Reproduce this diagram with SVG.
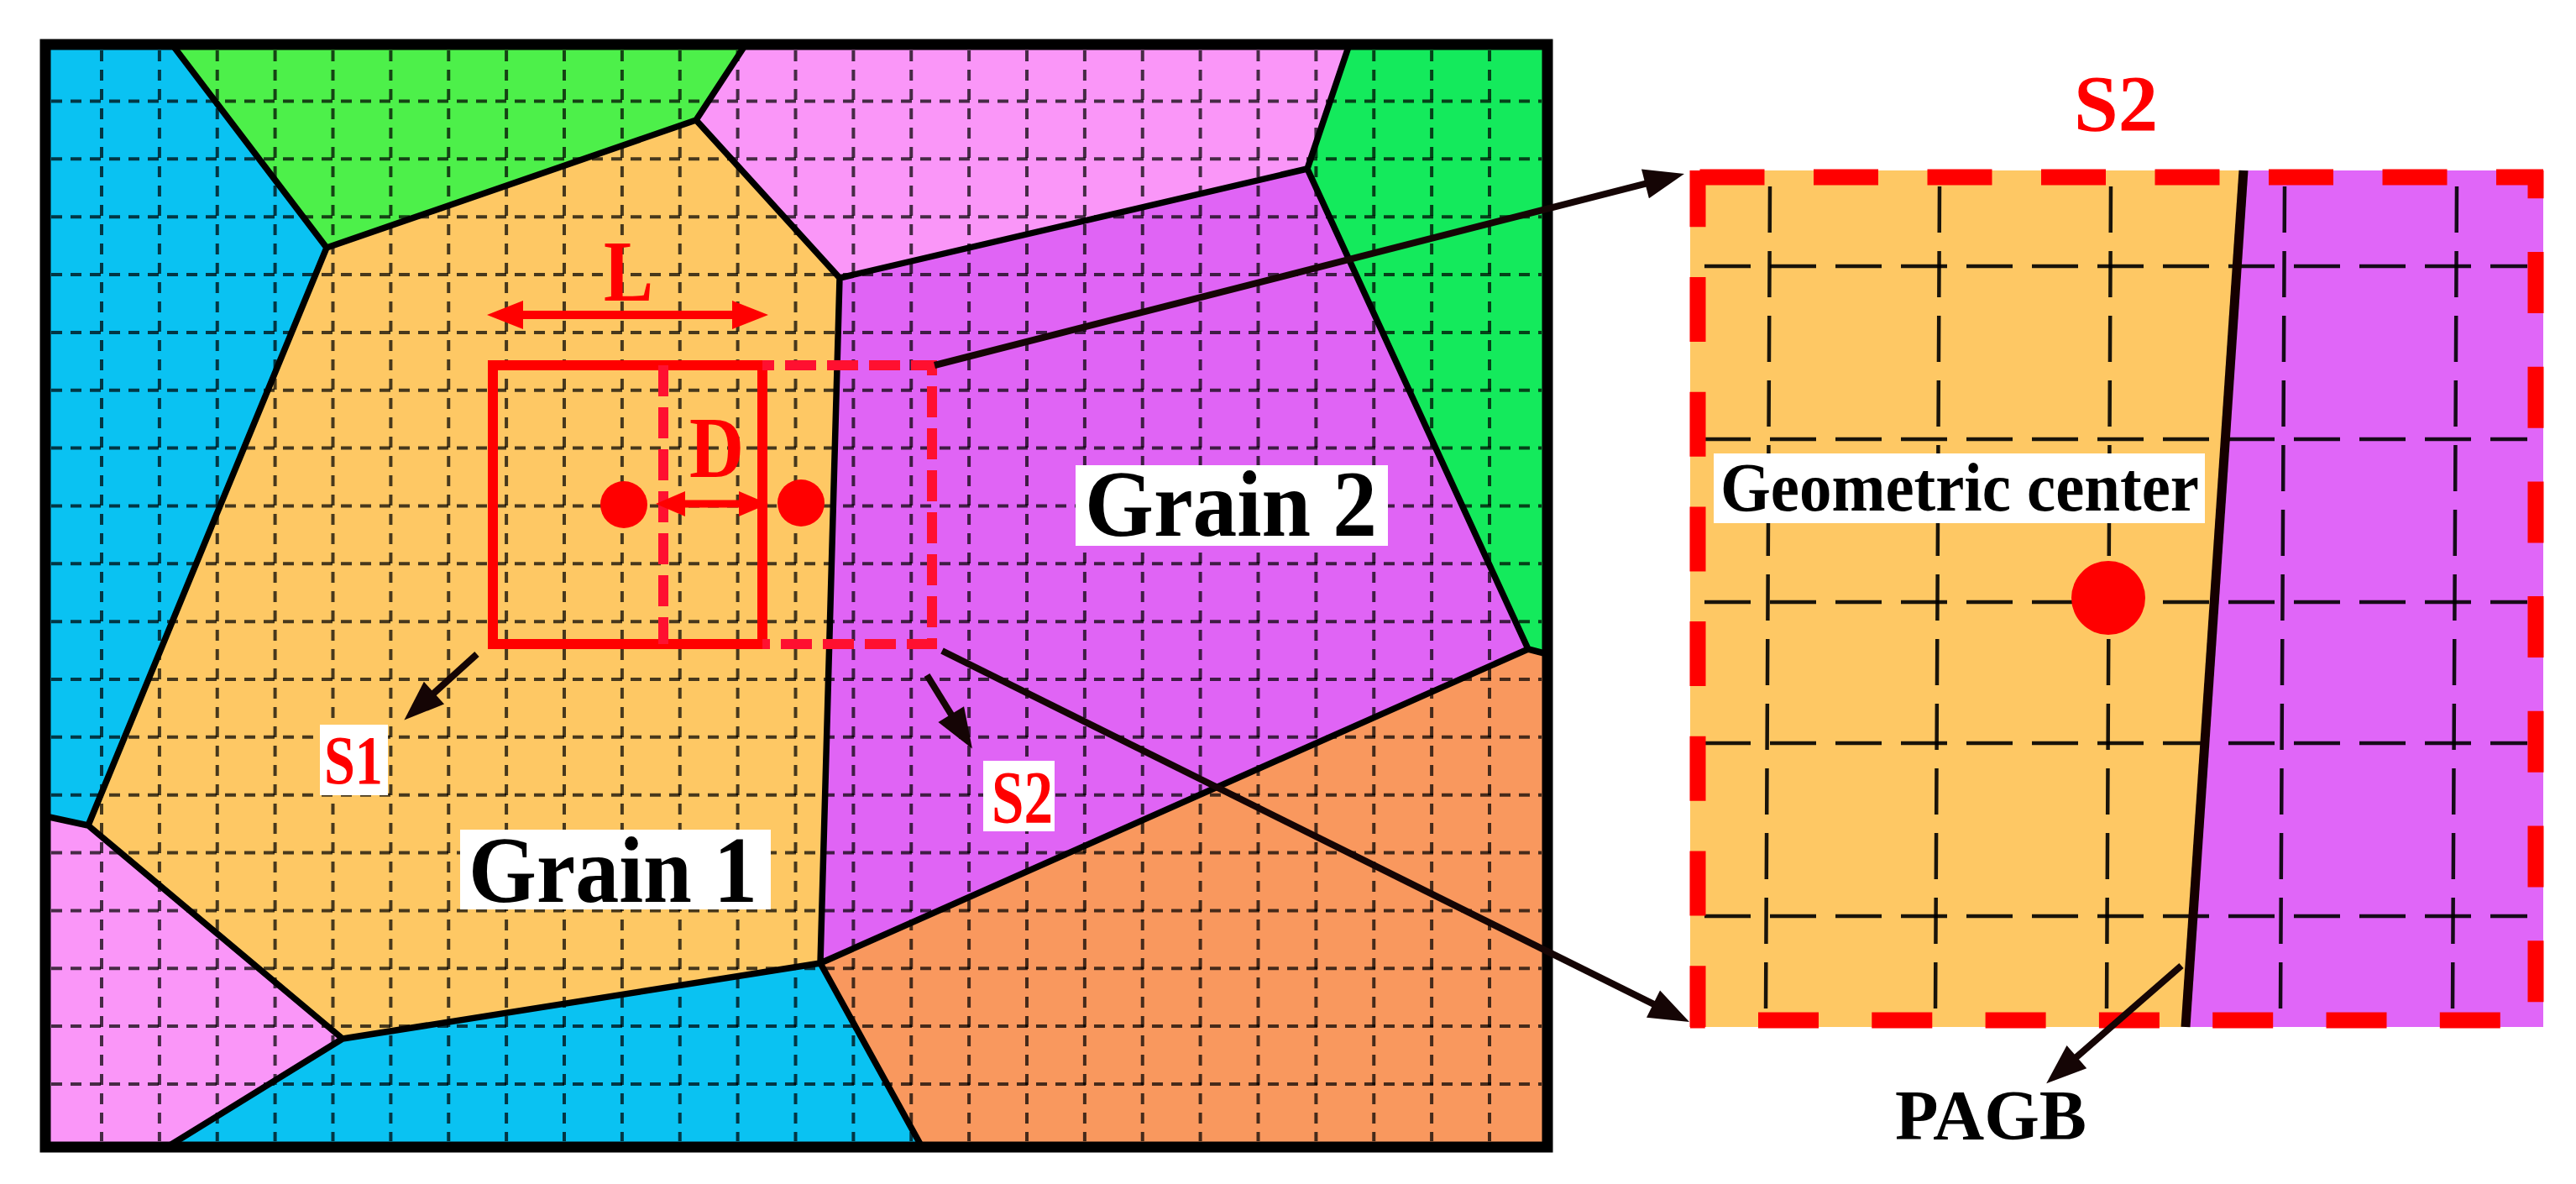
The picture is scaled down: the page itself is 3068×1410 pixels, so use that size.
<svg xmlns="http://www.w3.org/2000/svg" width="3068" height="1410" viewBox="0 0 3068 1410">
<defs>
<style>
.bd{fill:none;stroke:#000;stroke-width:7.5;stroke-linejoin:round;stroke-linecap:round}
.grid{fill:none;stroke:#000;stroke-opacity:0.72;stroke-width:4;stroke-dasharray:13 10}
.pgrid{fill:none;stroke:#000;stroke-opacity:0.9;stroke-width:4.5}
.t{font-family:"Liberation Serif","Times New Roman",serif;font-weight:bold}
.lbl{fill:#fff}
.blk{fill:none;stroke:#150505;stroke-width:8}
.rs{fill:none;stroke:#ff0000;stroke-width:12}
.rd{fill:none;stroke:#ff1030;stroke-width:12;stroke-dasharray:37 13}
.pb{fill:none;stroke:#ff0000;stroke-width:19}
</style>
<marker id="ah" markerUnits="userSpaceOnUse" markerWidth="50" markerHeight="38" refX="31" refY="18" orient="auto" overflow="visible">
<path d="M0,0 L48,18 L0,36 z" fill="#150505"/>
</marker>
<marker id="rh" markerUnits="userSpaceOnUse" markerWidth="44" markerHeight="36" refX="28" refY="17" orient="auto-start-reverse" overflow="visible">
<path d="M0,0 L43,17 L0,34 z" fill="#ff0000"/>
</marker>
<marker id="rhs" markerUnits="userSpaceOnUse" markerWidth="36" markerHeight="32" refX="22" refY="15" orient="auto-start-reverse" overflow="visible">
<path d="M0,0 L35,15 L0,30 z" fill="#ff0000"/>
</marker>
</defs>
<rect width="3068" height="1410" fill="#fff"/>

<g id="microstructure">
<polygon id="blue-left" fill="#0ac2f2" points="54,53 205,53 389,295 105,983 54,972"/>
<polygon id="green-top" fill="#4df04a" points="205,53 888,53 829,143 389,295"/>
<polygon id="pink-top" fill="#fa96f8" points="888,53 1607,53 1557,201 1000,331 829,143"/>
<polygon id="green-right" fill="#14ea5c" points="1607,53 1843,53 1843,779 1820,773 1557,201"/>
<polygon id="grain1-region" fill="#fec864" points="389,295 829,143 1000,331 977,1147 408,1237 105,983"/>
<polygon id="grain2-region" fill="#e064f5" points="1000,331 1557,201 1820,773 977,1147"/>
<polygon id="pink-bottom" fill="#fa96f8" points="54,972 105,983 408,1237 199,1366 54,1366"/>
<polygon id="blue-bottom" fill="#0ac2f2" points="408,1237 977,1147 1098,1366 199,1366"/>
<polygon id="orange-right" fill="#f9985e" points="977,1147 1820,773 1843,779 1843,1366 1098,1366"/>

<path class="grid" d="M121,60V1359M189.9,60V1359M258.75,60V1359M327.6,60V1359M396.5,60V1359M465.4,60V1359M534.25,60V1359M603.1,60V1359M672,60V1359M740.9,60V1359M809.75,60V1359M878.6,60V1359M947.5,60V1359M1016.4,60V1359M1085.25,60V1359M1154.1,60V1359M1223,60V1359M1291.9,60V1359M1360.75,60V1359M1429.6,60V1359M1498.5,60V1359M1567.4,60V1359M1636.25,60V1359M1705.1,60V1359M1774,60V1359"/>
<path class="grid" d="M61,120.5H1836M61,189.35H1836M61,258.2H1836M61,327.05H1836M61,395.9H1836M61,464.75H1836M61,533.6H1836M61,602.45H1836M61,671.3H1836M61,740.15H1836M61,809H1836M61,877.85H1836M61,946.7H1836M61,1015.55H1836M61,1084.4H1836M61,1153.25H1836M61,1222.1H1836M61,1290.95H1836"/>

<path class="bd" d="M205,53L389,295L829,143L888,53M829,143L1000,331L1557,201L1607,53M1557,201L1820,773L1843,779M1000,331L977,1147L1820,773M389,295L105,983L54,972M105,983L408,1237L977,1147L1098,1366M408,1237L199,1366"/>
<rect x="54" y="53" width="1789" height="1313" fill="none" stroke="#000" stroke-width="13"/>
</g>

<g id="s1-window">
<rect class="rs" x="587" y="435" width="321" height="332"/>
<circle cx="743" cy="601" r="28" fill="#ff0000"/>
</g>
<g id="s2-window">
<path class="rd" stroke-dashoffset="23" d="M908,435H1110V767H908"/>
<path class="rd" d="M790,435V767"/>
<circle cx="954" cy="599" r="28" fill="#ff0000"/>
</g>

<g id="label-L"><text class="t" x="719" y="358" font-size="103" fill="#ff0000" textLength="59" lengthAdjust="spacingAndGlyphs">L</text></g>
<g id="label-D"><text class="t" x="821" y="568" font-size="103" fill="#ff0000" textLength="65" lengthAdjust="spacingAndGlyphs">D</text></g>
<g id="label-grain2"><rect class="lbl" x="1281" y="554" width="372" height="96"/><text class="t" x="1292" y="638" font-size="112" fill="#000" textLength="348" lengthAdjust="spacingAndGlyphs">Grain 2</text></g>
<g id="label-grain1"><rect class="lbl" x="548" y="988" width="370" height="95"/><text class="t" x="558" y="1074" font-size="112" fill="#000" textLength="344" lengthAdjust="spacingAndGlyphs">Grain 1</text></g>
<g id="label-s1"><rect class="lbl" x="381" y="863" width="81" height="84"/><text class="t" x="386" y="933" font-size="82" fill="#f00" textLength="70" lengthAdjust="spacingAndGlyphs">S1</text></g>
<g id="label-s2"><rect class="lbl" x="1171" y="906" width="85" height="84"/><text class="t" x="1181" y="979" font-size="88" fill="#f00" textLength="73" lengthAdjust="spacingAndGlyphs">S2</text></g>

<g id="zoom-panel">
<polygon fill="#fec864" points="2013,203 2672,203 2603,1223 2013,1223"/>
<polygon fill="#e066f8" points="2672,203 3029,203 3029,1223 2603,1223"/>
<path class="pgrid" stroke-dasharray="55 22" d="M2108,222L2103,1205M2310,222L2305,1205M2514,222L2509,1205M2721,222L2716,1205M2926,222L2921,1205"/>
<path class="pgrid" stroke-dasharray="55 23" d="M2030,317H3010M2030,523H3010M2030,717H3010M2030,885H3010M2030,1091H3010"/>
<path d="M2672,203L2603,1223" fill="none" stroke="#150000" stroke-width="11"/>
<path class="pb" stroke-dasharray="77 58.5" stroke-dashoffset="124" d="M2013,211H3029"/>
<path class="pb" stroke-dasharray="73 63.7" stroke-dashoffset="39.7" d="M3020,203V1223"/>
<path class="pb" stroke-dasharray="72 63.3" stroke-dashoffset="54.3" d="M2013,1215H3029"/>
<path class="pb" stroke-dasharray="77 59.7" stroke-dashoffset="9.7" d="M2022,203V1223"/>
<rect class="lbl" x="2041" y="540" width="585" height="83"/>
<text class="t" x="2049" y="608" font-size="82" fill="#000" textLength="570" lengthAdjust="spacingAndGlyphs">Geometric center</text>
<circle cx="2511" cy="712" r="44" fill="#ff0000"/>
</g>
<g id="label-s2-title"><text class="t" x="2470" y="156" font-size="96" fill="#ff0000" textLength="100" lengthAdjust="spacingAndGlyphs">S2</text></g>
<g id="label-pagb"><text class="t" x="2257" y="1357" font-size="84" fill="#000" textLength="228" lengthAdjust="spacingAndGlyphs">PAGB</text></g>

<g id="connectors">
<path d="M595,375H900" fill="none" stroke="#ff0000" stroke-width="10" marker-start="url(#rh)" marker-end="url(#rh)"/>
<path d="M794,600H902" fill="none" stroke="#ff0000" stroke-width="9" marker-start="url(#rhs)" marker-end="url(#rhs)"/>
<path class="blk" d="M1113,435L1989.5,211.2" marker-end="url(#ah)"/>
<path class="blk" d="M1122,775L1996.8,1209.4" marker-end="url(#ah)"/>
<path class="blk" d="M568,779L494,846" marker-end="url(#ah)"/>
<path class="blk" d="M1104,804L1149,877" marker-end="url(#ah)"/>
<path class="blk" d="M2598,1150L2450,1279" marker-end="url(#ah)"/>
</g>
</svg>
